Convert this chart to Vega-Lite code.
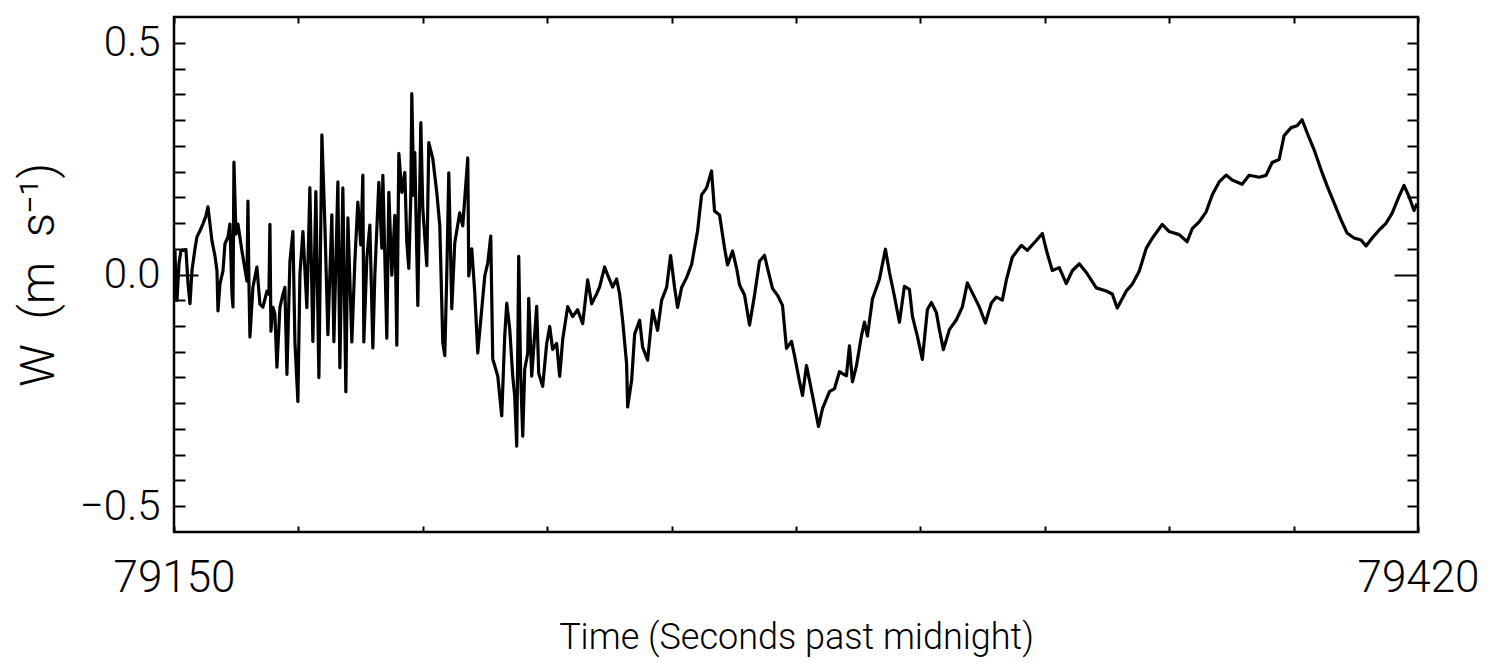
{
  "$schema": "https://vega.github.io/schema/vega-lite/v6.json",
  "width": 1244,
  "height": 515,
  "autosize": {"type": "none"},
  "padding": {"left": 174, "top": 17, "right": 73, "bottom": 130},
  "background": "white",
  "config": {
    "view": {"stroke": "black", "strokeWidth": 2.5},
    "axis": {
      "grid": false, "domain": false, "tickColor": "black", "tickWidth": 2,
      "labelColor": "black", "titleColor": "black",
      "labelFont": "Roboto", "titleFont": "Roboto",
      "labelFontWeight": 300, "titleFontWeight": 300,
      "labelOverlap": false, "labelFlush": false, "labelBound": false
    }
  },
  "data": {"values": [
    {"t":79150.22,"w":0.0517},{"t":79150.43,"w":-0.041},{"t":79150.65,"w":-0.056},{"t":79151.08,"w":0.0236},{"t":79151.52,"w":0.0516},{"t":79152.6,"w":0.0537},{"t":79153.04,"w":-0.0196},{"t":79153.47,"w":-0.0628},{"t":79153.9,"w":0.0083},{"t":79154.55,"w":0.0557},
    {"t":79154.99,"w":0.0815},{"t":79155.64,"w":0.0944},{"t":79156.29,"w":0.1094},{"t":79156.94,"w":0.1266},{"t":79157.37,"w":0.146},{"t":79157.81,"w":0.1093},{"t":79158.24,"w":0.0726},{"t":79158.89,"w":0.0402},{"t":79159.33,"w":0.0079},{"t":79159.54,"w":-0.0783},
    {"t":79159.98,"w":-0.0202},{"t":79160.63,"w":0.0078},{"t":79161.06,"w":0.0659},{"t":79161.71,"w":0.081},{"t":79162.14,"w":0.1089},{"t":79162.58,"w":-0.042},{"t":79162.8,"w":-0.07},{"t":79163.01,"w":0.2425},{"t":79163.45,"w":0.0873},{"t":79163.88,"w":0.1088},
    {"t":79164.75,"w":0.0505},{"t":79165.4,"w":0.0117},{"t":79165.83,"w":-0.0142},{"t":79166.05,"w":0.1582},{"t":79166.27,"w":-0.0207},{"t":79166.48,"w":-0.1349},{"t":79167.13,"w":-0.0272},{"t":79168.0,"w":0.0158},{"t":79168.65,"w":-0.064},{"t":79169.3,"w":-0.0705},
    {"t":79170.17,"w":-0.0361},{"t":79170.6,"w":-0.0426},{"t":79170.82,"w":0.1083},{"t":79171.04,"w":-0.1224},{"t":79171.47,"w":-0.0707},{"t":79171.9,"w":-0.0858},{"t":79172.34,"w":-0.2001},{"t":79172.99,"w":-0.0708},{"t":79173.64,"w":-0.0428},{"t":79174.07,"w":-0.0278},
    {"t":79174.51,"w":-0.2153},{"t":79175.16,"w":0.0282},{"t":79175.81,"w":0.0928},{"t":79176.24,"w":-0.1443},{"t":79176.89,"w":-0.2737},{"t":79177.33,"w":0.0},{"t":79177.98,"w":0.0926},{"t":79178.84,"w":-0.0713},{"t":79179.49,"w":0.1873},{"t":79180.14,"w":-0.1447},
    {"t":79180.79,"w":0.1786},{"t":79181.45,"w":-0.2223},{"t":79182.1,"w":0.3013},{"t":79182.75,"w":0.1073},{"t":79183.4,"w":-0.1298},{"t":79184.26,"w":0.1287},{"t":79184.7,"w":-0.145},{"t":79185.57,"w":0.1997},{"t":79186.0,"w":-0.2011},{"t":79186.65,"w":0.1867},
    {"t":79187.3,"w":-0.253},{"t":79187.74,"w":0.122},{"t":79188.6,"w":-0.1453},{"t":79189.25,"w":0.027},{"t":79189.9,"w":0.1563},{"t":79190.55,"w":0.0636},{"t":79190.99,"w":0.2144},{"t":79191.2,"w":-0.1455},{"t":79191.86,"w":0.0355},{"t":79192.51,"w":0.1065},
    {"t":79193.16,"w":-0.1586},{"t":79193.59,"w":-0.0013},{"t":79194.46,"w":0.199},{"t":79195.11,"w":0.0567},{"t":79195.33,"w":0.2141},{"t":79196.19,"w":-0.1373},{"t":79196.63,"w":0.1773},{"t":79197.28,"w":-0.0016},{"t":79197.93,"w":0.1277},{"t":79198.36,"w":-0.1526},
    {"t":79198.8,"w":0.2612},{"t":79199.45,"w":0.1771},{"t":79200.1,"w":0.2201},{"t":79200.53,"w":0.0692},{"t":79200.96,"w":0.0132},{"t":79201.4,"w":0.1705},{"t":79201.61,"w":0.3903},{"t":79202.05,"w":0.1704},{"t":79202.26,"w":0.2631},{"t":79202.92,"w":-0.0667},
    {"t":79203.57,"w":0.3276},{"t":79204.0,"w":0.1422},{"t":79204.87,"w":0.0193},{"t":79205.3,"w":0.2844},{"t":79206.17,"w":0.2498},{"t":79207.04,"w":0.1765},{"t":79207.69,"w":0.1053},{"t":79208.34,"w":-0.1469},{"t":79208.77,"w":-0.175},{"t":79209.2,"w":-0.0026},
    {"t":79209.64,"w":0.2194},{"t":79210.29,"w":-0.0738},{"t":79210.94,"w":0.0684},{"t":79212.02,"w":0.133},{"t":79212.67,"w":0.1049},{"t":79213.76,"w":0.2514},{"t":79213.98,"w":-0.003},{"t":79214.63,"w":0.0552},{"t":79215.28,"w":-0.0397},{"t":79215.93,"w":-0.169},
    {"t":79216.8,"w":-0.0743},{"t":79217.45,"w":-0.0032},{"t":79218.1,"w":0.0247},{"t":79218.75,"w":0.0829},{"t":79219.18,"w":-0.1822},{"t":79220.27,"w":-0.219},{"t":79221.13,"w":-0.3052},{"t":79221.78,"w":-0.1329},{"t":79222.22,"w":-0.0618},{"t":79222.87,"w":-0.1179},
    {"t":79223.52,"w":-0.2192},{"t":79223.95,"w":-0.2624},{"t":79224.39,"w":-0.3702},{"t":79224.82,"w":0.0393},{"t":79225.25,"w":-0.2194},{"t":79225.69,"w":-0.3487},{"t":79226.12,"w":-0.2044},{"t":79226.77,"w":-0.1699},{"t":79226.99,"w":-0.0514},{"t":79227.64,"w":-0.2195},
    {"t":79228.72,"w":-0.0688},{"t":79229.16,"w":-0.2132},{"t":79230.02,"w":-0.2413},{"t":79230.89,"w":-0.1487},{"t":79231.54,"w":-0.1121},{"t":79232.19,"w":-0.1617},{"t":79233.06,"w":-0.1489},{"t":79233.71,"w":-0.22},{"t":79234.36,"w":-0.1403},{"t":79235.45,"w":-0.0693},
    {"t":79236.53,"w":-0.0909},{"t":79237.61,"w":-0.0759},{"t":79238.7,"w":-0.1062},{"t":79239.78,"w":-0.0115},{"t":79240.65,"w":-0.0633},{"t":79241.73,"w":-0.0418},{"t":79242.38,"w":-0.0268},
    {"t":79243.47,"w":0.0163},{"t":79244.12,"w":-0.0011},{"t":79245.21,"w":-0.027},{"t":79246.07,"w":-0.0098},{"t":79246.72,"w":-0.0422},{"t":79247.37,"w":-0.0983},{"t":79248.24,"w":-0.1932},{"t":79248.46,"w":-0.2859},{"t":79249.33,"w":-0.2278},{"t":79249.98,"w":-0.1287},
    {"t":79251.06,"w":-0.0986},{"t":79251.71,"w":-0.1568},{"t":79252.8,"w":-0.1849},{"t":79253.88,"w":-0.0773},{"t":79254.96,"w":-0.1205},{"t":79255.83,"w":-0.0559},{"t":79256.92,"w":-0.0279},{"t":79257.78,"w":0.041},{"t":79258.65,"w":-0.0281},{"t":79259.3,"w":-0.0712},
    {"t":79260.17,"w":-0.0282},{"t":79261.25,"w":-0.0067},{"t":79262.34,"w":0.0212},{"t":79262.99,"w":0.0578},{"t":79263.64,"w":0.0944},{"t":79264.51,"w":0.1719},{"t":79265.59,"w":0.1869},{"t":79266.67,"w":0.2234},{"t":79267.32,"w":0.1372},{"t":79268.41,"w":0.1285},
    {"t":79269.49,"w":0.0573},{"t":79270.14,"w":0.0206},{"t":79271.23,"w":0.0507},{"t":79272.1,"w":0.014},{"t":79272.75,"w":-0.0227},{"t":79273.83,"w":-0.0444},{"t":79274.92,"w":-0.1091},{"t":79276.0,"w":-0.0445},{"t":79277.08,"w":0.0286},{"t":79278.17,"w":0.0415},
    {"t":79278.82,"w":0.0134},{"t":79279.9,"w":-0.0298},{"t":79280.99,"w":-0.0449},{"t":79282.07,"w":-0.0666},{"t":79282.94,"w":-0.1593},{"t":79284.02,"w":-0.1443},{"t":79284.67,"w":-0.1745},{"t":79285.76,"w":-0.2307},{"t":79286.41,"w":-0.2609},{"t":79287.28,"w":-0.1963},
    {"t":79288.58,"w":-0.2611},{"t":79289.88,"w":-0.328},{"t":79290.75,"w":-0.2892},{"t":79292.26,"w":-0.2527},{"t":79293.35,"w":-0.2464},{"t":79294.43,"w":-0.2098},{"t":79295.95,"w":-0.2185},{"t":79296.6,"w":-0.1539},{"t":79297.25,"w":-0.2316},{"t":79298.12,"w":-0.1972},
    {"t":79299.2,"w":-0.1326},{"t":79299.86,"w":-0.1025},{"t":79300.51,"w":-0.1327},{"t":79301.59,"w":-0.053},{"t":79303.11,"w":-0.0101},{"t":79304.41,"w":0.0545},{"t":79305.28,"w":0.0048},{"t":79306.36,"w":-0.047},{"t":79307.45,"w":-0.1031},{"t":79308.53,"w":-0.0256},
    {"t":79309.62,"w":-0.0321},{"t":79310.27,"w":-0.0904},{"t":79311.35,"w":-0.1336},{"t":79312.43,"w":-0.1832},{"t":79313.52,"w":-0.0755},{"t":79314.39,"w":-0.0605},{"t":79315.47,"w":-0.0822},{"t":79316.12,"w":-0.1189},{"t":79316.99,"w":-0.162},{"t":79318.29,"w":-0.119},
    {"t":79319.81,"w":-0.0976},{"t":79321.11,"w":-0.0697},{"t":79322.19,"w":-0.0181},{"t":79323.28,"w":-0.0397},{"t":79324.8,"w":-0.07},{"t":79326.1,"w":-0.1046},{"t":79327.4,"w":-0.0616},{"t":79328.48,"w":-0.0487},{"t":79329.78,"w":-0.0553},
    {"t":79330.65,"w":-0.0123},{"t":79331.95,"w":0.0372},{"t":79333.9,"w":0.0629},{"t":79335.21,"w":0.052},{"t":79337.16,"w":0.0734},{"t":79338.46,"w":0.0884},{"t":79339.54,"w":0.0452},{"t":79340.63,"w":0.0085},{"t":79342.14,"w":0.0148},{"t":79343.66,"w":-0.0198},
    {"t":79344.96,"w":0.0081},{"t":79346.48,"w":0.0231},{"t":79348.22,"w":0.0014},{"t":79350.17,"w":-0.0289},{"t":79352.34,"w":-0.0355},{"t":79353.64,"w":-0.0421},{"t":79354.72,"w":-0.0724},{"t":79356.67,"w":-0.0359},{"t":79357.98,"w":-0.0209},{"t":79359.49,"w":0.007},
    {"t":79361.01,"w":0.0564},{"t":79362.31,"w":0.0779},{"t":79364.48,"w":0.1079},{"t":79366.0,"w":0.0927},{"t":79368.17,"w":0.086},{"t":79369.9,"w":0.0708},{"t":79370.99,"w":0.0988},{"t":79372.51,"w":0.1137},{"t":79374.02,"w":0.1352},{"t":79375.33,"w":0.1717},
    {"t":79376.84,"w":0.1996},{"t":79378.36,"w":0.2145},{"t":79379.66,"w":0.2037},{"t":79381.83,"w":0.1949},{"t":79383.35,"w":0.2141},{"t":79385.52,"w":0.2097},{"t":79387.03,"w":0.2138},{"t":79388.34,"w":0.2417},{"t":79389.86,"w":0.2481},{"t":79390.94,"w":0.2997},
    {"t":79392.46,"w":0.3169},{"t":79393.76,"w":0.321},{"t":79394.84,"w":0.3339},{"t":79395.93,"w":0.3058},{"t":79397.45,"w":0.2691},{"t":79398.96,"w":0.2258},{"t":79400.27,"w":0.1912},{"t":79401.78,"w":0.1545},{"t":79403.3,"w":0.1177},{"t":79404.6,"w":0.0896},
    {"t":79406.12,"w":0.0787},{"t":79407.64,"w":0.0743},{"t":79408.72,"w":0.0613},{"t":79410.02,"w":0.0784},{"t":79411.54,"w":0.0955},{"t":79413.06,"w":0.1105},{"t":79414.36,"w":0.1319},{"t":79415.88,"w":0.1684},{"t":79416.96,"w":0.192},{"t":79418.05,"w":0.1683},
    {"t":79419.13,"w":0.138},{"t":79419.78,"w":0.153}
  ]},
  "layer": [
    {
      "mark": {"type": "line", "color": "black", "strokeWidth": 3.2, "strokeJoin": "round", "clip": true},
      "encoding": {
        "x": {
          "field": "t", "type": "quantitative",
          "scale": {"domain": [79150, 79420], "nice": false, "zero": false},
          "axis": {
            "orient": "bottom",
            "values": [79150, 79177, 79204, 79231, 79258, 79285, 79312, 79339, 79366, 79393, 79420],
            "format": "d",
            "labelExpr": "datum.value == 79150 || datum.value == 79420 ? datum.label : ''",
            "tickSize": -6, "labelPadding": 30, "labelFontSize": 44,
            "title": "Time (Seconds past midnight)", "titleFontSize": 36, "titlePadding": 20
          }
        },
        "y": {
          "field": "w", "type": "quantitative",
          "scale": {"domain": [-0.555556, 0.555556], "nice": false, "zero": false},
          "axis": {
            "orient": "left",
            "values": [0.5, 0.444444, 0.388889, 0.333333, 0.277778, 0.222222, 0.166667, 0.111111, 0.055556, 0, -0.055556, -0.111111, -0.166667, -0.222222, -0.277778, -0.333333, -0.388889, -0.444444, -0.5],
            "labelExpr": "datum.value == 0.5 ? '0.5' : datum.value == 0 ? '0.0' : datum.value == -0.5 ? '\u22120.5' : ''",
            "tickSize": {"condition": {"test": "datum.value === 0", "value": -24}, "value": -11},
            "labelPadding": {"condition": {"test": "datum.value === 0", "value": 38}, "value": 25},
            "labelFontSize": 42,
            "title": "W\u2002(m\u2002s\u207b\u00b9)", "titleFontSize": 48, "titlePadding": 16
          }
        }
      }
    },
    {
      "mark": {"type": "line", "opacity": 0},
      "encoding": {
        "x": {
          "field": "t", "type": "quantitative",
          "scale": {"domain": [79150, 79420], "nice": false, "zero": false},
          "axis": {
            "orient": "top",
            "values": [79150, 79177, 79204, 79231, 79258, 79285, 79312, 79339, 79366, 79393, 79420],
            "labels": false, "tickSize": -6, "title": null
          }
        },
        "y": {
          "field": "w", "type": "quantitative",
          "scale": {"domain": [-0.555556, 0.555556], "nice": false, "zero": false},
          "axis": {
            "orient": "right",
            "values": [0.5, 0.444444, 0.388889, 0.333333, 0.277778, 0.222222, 0.166667, 0.111111, 0.055556, 0, -0.055556, -0.111111, -0.166667, -0.222222, -0.277778, -0.333333, -0.388889, -0.444444, -0.5],
            "labels": false,
            "tickSize": {"condition": {"test": "datum.value === 0", "value": -24}, "value": -11},
            "title": null
          }
        }
      }
    }
  ],
  "resolve": {"axis": {"x": "independent", "y": "independent"}}
}
